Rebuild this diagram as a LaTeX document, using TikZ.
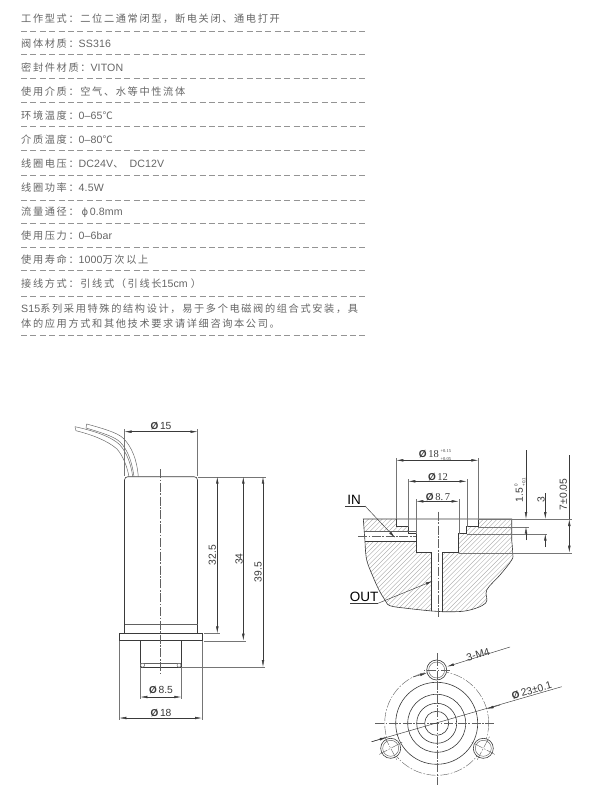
\documentclass[tikz,border=0pt]{standalone}
\usepackage{fontspec}
\usetikzlibrary{arrows.meta}
\setmainfont{Liberation Sans}
\newfontfamily\specb[LetterSpace=16]{Noto Sans CJK SC}
\newfontfamily\latf[LetterSpace=1]{Liberation Sans}
\newfontfamily\symf{DejaVu Sans}
\newfontfamily\dimfont{Liberation Sans}
\newfontfamily\dimserif{Liberation Serif}
\newcommand{\lat}[1]{{\latf\fontsize{10.6}{12}\selectfont #1}}
\definecolor{txt}{HTML}{666666}
\definecolor{ink}{HTML}{3A3A3A}
\definecolor{hatchc}{HTML}{A0A0A0}
\tikzset{
  spec/.style={anchor=west,inner sep=0pt,text=txt,font=\specb\fontsize{10.2}{12}\selectfont},
  rule/.style={draw=txt!70,line width=.6pt,dash pattern=on 6pt off 3.4pt},
  part/.style={draw=ink,line width=.6pt},
  thin part/.style={draw=ink!80,line width=.45pt},
  center/.style={draw=ink!80,line width=.4pt,dash pattern=on 9pt off 1.6pt on 1.6pt off 1.6pt},
  ext/.style={draw=ink!70,line width=.4pt},
  dimline/.style={draw=ink,line width=.45pt},
  both/.style={dimline,{Latex[length=7pt,width=2.6pt]}-{Latex[length=7pt,width=2.6pt]}},
  tip/.style={dimline,-{Latex[length=7pt,width=2.6pt]}},
  dimtxt/.style={inner sep=0pt,text=ink,font=\dimfont\fontsize{10.3}{11}\selectfont},
  calltxt/.style={inner sep=0pt,text=black,font=\dimfont\fontsize{13.5}{14}\selectfont}
}
\def\dia{{\fontsize{10}{10}\selectfont\textbf{Ø}}}
\def\blockoutline{(363.3,519) -- (511.7,519) -- (511.7,540) --
  plot[smooth,tension=.6] coordinates {(511.7,540) (512.7,553) (511.7,560) (500,575) (486.7,590) (485.7,603) (466.7,610.7) (442.3,611.7) (431.7,611) (406.7,608.3) (390,605.7) (385,600) (379,590) (373,576.7) (366.7,560) (365,541.7)} -- cycle}
\begin{document}
\begin{tikzpicture}[x=1pt,y=-1pt]
\useasboundingbox[fill=white] (0,0) rectangle (615,807);
% ---------- specification table
\foreach \y in {31,54,78,102,126,150,175,200,223,247,270,296,335}
  \draw[rule] (21,\y) -- (367,\y);
\node[spec] (t1) at (21,19) {工作型式：二位二通常闭型，断电关闭、通电打开};
\node[spec] (t2) at (21,43.5) {阀体材质：\lat{SS316}};
\node[spec] (t3) at (21,67.5) {密封件材质：\lat{VITON}};
\node[spec] (t4) at (21,91.5) {使用介质：空气、水等中性流体};
\node[spec] (t5) at (21,115.5) {环境温度：\lat{0–65}℃};
\node[spec] (t6) at (21,140) {介质温度：\lat{0–80}℃};
\node[spec] (t7) at (21,164) {线圈电压：\lat{DC24V}、\hspace{6pt}\lat{DC12V}};
\node[spec] (t8) at (21,188) {线圈功率：\lat{4.5W}};
\node[spec] (t9) at (21,212) {流量通径：\hspace{3pt}{\symf\fontsize{10}{12}\selectfont ϕ}\hspace{1.5pt}\lat{0.8mm}};
\node[spec] (t10) at (21,236) {使用压力：\lat{0–6bar}};
\node[spec] (t11) at (21,260) {使用寿命：\lat{1000}万次以上};
\node[spec] (t12) at (21,284) {接线方式：引线式（引线长\lat{15cm}\hspace{3pt}）};
\node[spec] (t13) at (21,308.5) {\lat{S15}系列采用特殊的结构设计，易于多个电磁阀的组合式安装，具};
\node[spec] (t14) at (21,324) {体的应用方式和其他技术要求请详细咨询本公司。};
% ---------- valve, side view
\draw[part,rounded corners=3.3pt] (124.5,633.3) -- (124.5,476.7) -- (197.5,476.7) -- (197.5,633.3);
\draw[thin part] (124.5,624.7) -- (197.5,624.7);
\draw[part,fill=white] (119.3,633.3) rectangle (202,640.7);
\draw[part] (140.3,640.7) -- (140.3,667) -- (181.3,667) -- (181.3,640.7);
\draw[thin part] (140.3,663.3) -- (181.3,663.3);
\draw[thin part,fill=white] (142.6,665.2) circle (2);
\draw[thin part,fill=white] (179,665.2) circle (2);
\draw[center] (160.5,469) -- (160.5,673);
% wires
\draw[thin part] (86.7,424) .. controls (105,429) and (118,433) .. (123.3,438.3) .. controls (132,447) and (137,460) .. (138.3,476.7);
\draw[thin part] (86,428) .. controls (103,433) and (115,437) .. (120,442) .. controls (128,450) and (132,462) .. (134,476.7);
\draw[thin part] (75,426.7) .. controls (95,431) and (112,437) .. (120,445) .. controls (127,453) and (131,464) .. (132.7,476.7);
\draw[thin part] (76,430.7) .. controls (93,435) and (108,441) .. (117,449) .. controls (123,456) and (127,466) .. (129,476.7);
\draw[thin part] (75,426.7) -- (76,430.7);
\draw[thin part] (86.7,424) -- (86,428);
% side view dimensions
\draw[ext] (124.5,429) -- (124.5,476);
\draw[ext] (197.5,429) -- (197.5,476);
\draw[both] (124.5,431.7) -- (197.5,431.7);
\node[dimtxt] (d15) at (161,426) {\dia\,15};
\draw[ext] (197.5,476.7) -- (265.7,476.7);
\draw[ext] (204,633.3) -- (220,633.3);
\draw[ext] (204,640.7) -- (246,640.7);
\draw[ext] (181.3,667) -- (265,667);
\draw[both] (217.3,476.7) -- (217.3,633.3);
\draw[both] (243.3,476.7) -- (243.3,640.7);
\draw[both] (263,476.7) -- (263,667);
\node[dimtxt,rotate=90] (d325) at (212.3,555) {32.5};
\node[dimtxt,rotate=90] (d34) at (239,559) {34};
\node[dimtxt,rotate=90] (d395) at (258,572) {39.5};
\draw[ext] (140.3,667) -- (140.3,699);
\draw[ext] (181.3,667) -- (181.3,699);
\draw[both] (140.3,697) -- (181.3,697);
\node[dimtxt] (d85) at (161,690) {\dia\,8.5};
\draw[ext] (119.3,640.7) -- (119.3,720);
\draw[ext] (202,640.7) -- (202,720);
\draw[both] (119.3,718) -- (202,718);
\node[dimtxt] (d18) at (161,713) {\dia\,18};
% ---------- mounting section
\begin{scope}
  \clip \blockoutline;
  \foreach \c in {860,864.6,...,1130}
    \draw[hatchc,line width=.3pt] ({\c-510},510) -- ({\c-620},620);
\end{scope}
\fill[white] (396.3,515) rectangle (478.3,526.7);
\fill[white] (408.3,526.7) rectangle (466.7,533.7);
\fill[white] (416.3,533.7) rectangle (458.7,552.7);
\fill[white] (431.3,552.7) rectangle (442.3,611);
\fill[white] (364.5,531) rectangle (416.3,541);
\draw[part] \blockoutline;
\draw[part] (396.3,519) -- (396.3,526.7) -- (408.3,526.7) -- (408.3,533.7) -- (416.3,533.7) -- (416.3,552.7) -- (431.3,552.7) -- (431.3,611);
\draw[part] (478.3,519) -- (478.3,526.7) -- (466.7,526.7) -- (466.7,533.7) -- (458.7,533.7) -- (458.7,552.7) -- (442.3,552.7) -- (442.3,611.7);
\draw[thin part] (363.6,531) -- (416.3,531);
\draw[part] (365,541) -- (416.3,541);
\draw[center] (358,535.7) -- (416.3,535.7);
\draw[center] (437.7,511.7) -- (437.7,617);
% section dimensions
\draw[ext] (396.3,458) -- (396.3,519);
\draw[ext] (478.3,458) -- (478.3,519);
\draw[both] (396.3,460.3) -- (478.3,460.3);
\node[inner sep=0pt,text=ink] (d18t) at (435,455) {\dia\,\dimserif\fontsize{10.5}{11}\selectfont 18\,\raisebox{-2.5pt}{\fontsize{4.5}{4.5}\selectfont\shortstack[l]{+0.15\\[1.5pt]+0.05}}};
\draw[ext] (408.3,479) -- (408.3,526.7);
\draw[ext] (466.7,479) -- (466.7,526.7);
\draw[both] (408.3,481.3) -- (466.7,481.3);
\node[inner sep=0pt,text=ink] (d12) at (438,476.7) {\dia\,\dimserif\fontsize{10.5}{11}\selectfont 12};
\draw[ext] (416.3,499) -- (416.3,533.7);
\draw[ext] (458.7,499) -- (458.7,533.7);
\draw[both] (416.3,501.3) -- (458.7,501.3);
\node[inner sep=0pt,text=ink] (d87) at (438,497) {\dia\,\dimserif\fontsize{10.5}{11}\selectfont 8.\kern1.5pt 7};
\draw[ext] (478.3,519) -- (571.7,519);
\draw[ext] (478.3,526.7) -- (529,526.7);
\draw[ext] (466.7,533.7) -- (547,533.7);
\draw[ext] (458.7,552.7) -- (571.7,552.7);
\draw[tip] (526,450) -- (526,519);
\draw[tip] (526,540) -- (526,526.7);
\draw[tip] (545.3,493) -- (545.3,519);
\draw[tip] (545.3,547) -- (545.3,533.7);
\draw[dimline] (569.3,455) -- (569.3,519);
\draw[both] (569.3,519) -- (569.3,552.7);
\node[rotate=90,inner sep=0pt,text=ink] (d15h) at (520,490) {\dimfont\fontsize{10.3}{11}\selectfont 1.5\,\raisebox{-2.5pt}{\fontsize{4.5}{4.5}\selectfont\shortstack[l]{0\\[1.5pt]+0.1}}};
\node[dimtxt,rotate=90] (d3) at (541,500) {3};
\node[dimtxt,rotate=90] (d7) at (563.3,494.3) {7±0.05};
% callouts
\node[calltxt] (lin) at (354,500) {IN};
\draw[dimline] (345,506) -- (365,506);
\draw[tip] (365,506) -- (395,537.7);
\node[calltxt] (lout) at (364,596.7) {OUT};
\draw[dimline] (350,603.3) -- (378,603.3);
\draw[tip] (378,603.3) -- (432.7,581);
% ---------- port, plan view
\coordinate (c) at (436.7,723.3);
\foreach \r in {12,20,29,41} \draw[part] (c) circle (\r);
\draw[center] (c) circle (52);
\draw[center] (375,723.3) -- (495,723.3);
\draw[center] (436.7,653) -- (436.7,785);
\foreach \hx/\hy/\ang in {436.7/670/90,390.7/748.3/208,483.3/748.3/332}{
  \draw[part,fill=white] (\hx,\hy) circle (10);
  \draw[thin part] (\hx,\hy) circle (8);
  \begin{scope}[shift={(\hx,\hy)}]
    \draw[center] ({13*cos(\ang)},{-13*sin(\ang)}) -- ({-13*cos(\ang)},{13*sin(\ang)});
    \draw[center] ({13*sin(\ang)},{13*cos(\ang)}) -- ({-13*sin(\ang)},{-13*cos(\ang)});
  \end{scope}
}
\draw[tip] (413,677) -- (427,672.9);
\draw[tip] (510,647) -- (447,666.6);
\node[dimtxt,rotate=16] (dm4) at (478,654.5) {3-M4};
\coordinate (p1) at (371.7,741.7);
\coordinate (p2) at (561.7,686.7);
\draw[dimline] (p1) -- (p2);
\draw[tip] (p1) -- (386.7,737.3);
\draw[tip] (500,705) -- (486.7,708.9);
\node[dimtxt,rotate=16] (d23) at (531.7,690.5) {\dia\,23±0.1};
\end{tikzpicture}
\end{document}
